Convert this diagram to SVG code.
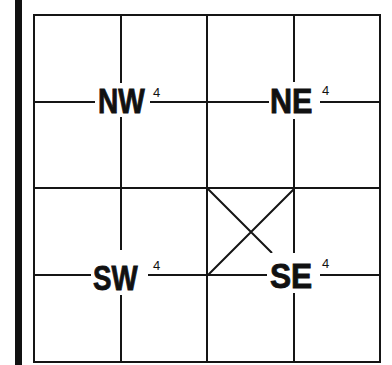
<svg xmlns="http://www.w3.org/2000/svg" width="392" height="365" viewBox="0 0 392 365">
<style>
.g{stroke:#151515;stroke-width:2;fill:none}
.m{fill:#fff;stroke:none}
.t{font-family:"Liberation Sans",Arial,sans-serif;font-weight:bold;font-size:36px;fill:#111;stroke:#111;stroke-width:0.9}
.s{font-family:"Liberation Sans",Arial,sans-serif;font-size:13px;fill:#111}
</style>
<rect width="392" height="365" fill="#fff"/>
<rect x="15" y="0" width="7" height="365" fill="#111"/>
<g id="grid">
<rect class="g" x="34" y="15" width="346" height="347"/>
<path class="g" d="M121 15V362M207 15V362M294 15V362M34 102H380M34 188H380M34 275H380"/>
<path class="g" d="M208 189L272 253M294 189L208 275"/>
</g>
<g id="NW">
<rect class="m" x="95" y="83" width="55" height="34"/>
<text class="t" transform="translate(98,113) scale(0.78,1)">NW</text>
<text class="s" x="153" y="97">4</text>
</g>
<g id="NE">
<rect class="m" x="269" y="82" width="51" height="37"/>
<text class="t" transform="translate(270,113) scale(0.85,1)">NE</text>
<text class="s" x="322" y="95">4</text>
</g>
<g id="SW">
<rect class="m" x="91" y="250" width="57" height="45"/>
<text class="t" transform="translate(93,290) scale(0.77,1)">SW</text>
<text class="s" x="153" y="270">4</text>
</g>
<g id="SE">
<rect class="m" x="267" y="253" width="53" height="40"/>
<text class="t" transform="translate(270,288) scale(0.88,1)">SE</text>
<text class="s" x="322" y="268">4</text>
</g>
</svg>
